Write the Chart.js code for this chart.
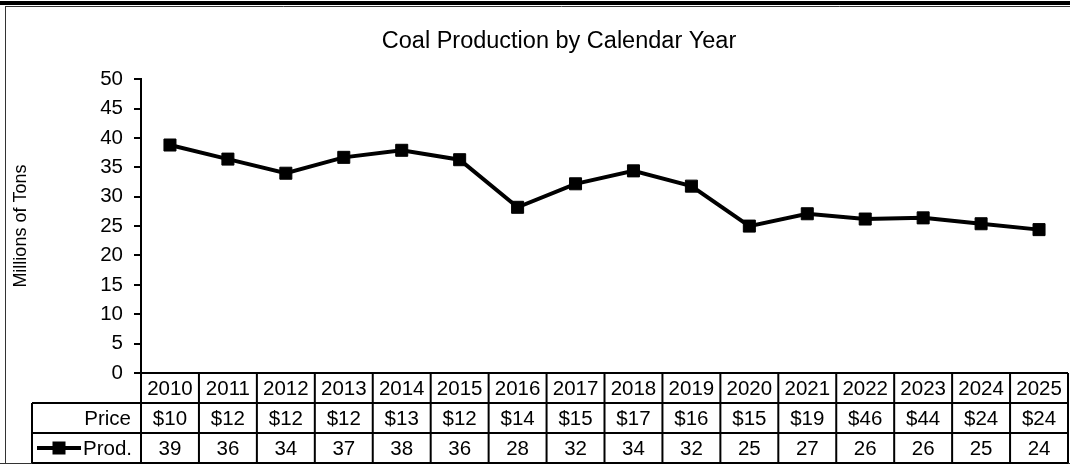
<!DOCTYPE html>
<html>
<head>
<meta charset="utf-8">
<title>Coal Production by Calendar Year</title>
<script src="https://cdn.jsdelivr.net/npm/chart.js@4.4.1/dist/chart.umd.min.js"></script>
<style>
  html, body { margin: 0; padding: 0; background: #fff; overflow: hidden; }
  #wrap { position: relative; width: 1070px; height: 466px; overflow: hidden; }
  #wrap canvas { position: absolute; left: 0; top: 0; }
</style>
</head>
<body>
<div id="wrap"><canvas id="coalChart" width="1118" height="466"></canvas></div>
<script>
// --- Datos ---
const years = ['2010', '2011', '2012', '2013', '2014', '2015', '2016', '2017',
               '2018', '2019', '2020', '2021', '2022', '2023', '2024', '2025'];
const production = [38.8, 36.4, 34.0, 36.7, 37.9, 36.3, 28.2, 32.2,
                    34.4, 31.8, 25.0, 27.1, 26.2, 26.4, 25.4, 24.4];
const prices = [10, 12, 12, 12, 13, 12, 14, 15, 17, 16, 15, 19, 46, 44, 24, 24];
const yTicks = [0, 50, 5]; // min, max, step

const FONT = "'Liberation Sans', Arial, sans-serif";
Chart.defaults.font.family = FONT;
Chart.defaults.color = '#000';

/**
 * Marco exterior (barra negra superior + borde) antes de dibujar.
 */
const framePlugin = {
  id: 'frame',
  beforeDraw(chart) {
    const ctx = chart.ctx;
    ctx.save();
    ctx.fillStyle = '#fff';
    ctx.fillRect(0, 0, chart.width, chart.height);
    ctx.fillStyle = '#000';
    ctx.fillRect(0, 1, chart.width, 4);
    ctx.strokeStyle = '#333';
    ctx.lineWidth = 1;
    ctx.beginPath();
    ctx.moveTo(5, 6.5); ctx.lineTo(chart.width, 6.5);
    ctx.moveTo(5.5, 6); ctx.lineTo(5.5, 464);
    ctx.moveTo(0, 463.5); ctx.lineTo(chart.width, 463.5);
    ctx.stroke();
    ctx.restore();
  }
};

/**
 * Tabla de datos bajo el eje X (años, precio, producción).
 */
const tablePlugin = {
  id: 'dataTable',
  afterDraw(chart) {
    const { ctx, chartArea: area, scales: { x } } = chart;
    const rowH = 30;
    const top = area.bottom;
    const tableLeft = 32;
    const colW = (area.right - area.left) / years.length;

    ctx.save();
    ctx.strokeStyle = '#000';
    ctx.lineWidth = 2;
    ctx.beginPath();
    ctx.moveTo(area.left, top); ctx.lineTo(area.right, top);
    for (let r = 1; r <= 3; r++) {
      ctx.moveTo(tableLeft, top + r * rowH); ctx.lineTo(area.right, top + r * rowH);
    }
    for (let i = 0; i <= years.length; i++) {
      const xx = area.left + i * colW;
      ctx.moveTo(xx, top); ctx.lineTo(xx, top + 3 * rowH);
    }
    ctx.moveTo(tableLeft, top + rowH); ctx.lineTo(tableLeft, top + 3 * rowH);
    ctx.stroke();

    ctx.fillStyle = '#000';
    ctx.font = '20.5px ' + FONT;
    ctx.textBaseline = 'middle';
    ctx.textAlign = 'center';
    years.forEach((yr, i) => {
      const cx = x.getPixelForValue(i);
      ctx.fillText(yr, cx, top + rowH * 0.5 + 1);
      ctx.fillText('$' + prices[i], cx, top + rowH * 1.5 + 1);
      ctx.fillText(String(Math.round(production[i])), cx, top + rowH * 2.5 + 1);
    });

    ctx.textAlign = 'right';
    ctx.fillText('Price', area.left - 10, top + rowH * 1.5 + 1);
    ctx.fillText('Prod.', area.left - 9, top + rowH * 2.5 + 1);

    // clave de leyenda
    const ky = top + rowH * 2.5;
    ctx.lineWidth = 4;
    ctx.beginPath();
    ctx.moveTo(37, ky); ctx.lineTo(81, ky);
    ctx.stroke();
    ctx.fillRect(59 - 6.5, ky - 6.5, 13, 13);
    ctx.restore();
  }
};

new Chart(document.getElementById('coalChart'), {
  type: 'line',
  data: {
    labels: years,
    datasets: [{
      label: 'Prod.',
      data: production,
      borderColor: '#000',
      backgroundColor: '#000',
      borderWidth: 4,
      pointStyle: 'rect',
      pointRadius: 8.5,
      pointHoverRadius: 8.5,
      pointBorderWidth: 1,
      tension: 0,
      fill: false
    }]
  },
  options: {
    responsive: false,
    animation: false,
    devicePixelRatio: 1,
    // izquierda 50 para centrar el título como en Excel
    layout: { padding: { top: 8, left: 50, right: 50, bottom: 93 } },
    plugins: {
      legend: { display: false },
      tooltip: { enabled: false },
      title: {
        display: true,
        text: 'Coal Production by Calendar Year',
        color: '#000',
        font: { size: 23.5, weight: 'normal' },
        padding: { top: 19, bottom: 24 }
      }
    },
    scales: {
      x: { display: false, offset: true },
      y: {
        min: yTicks[0],
        max: yTicks[1],
        afterFit: (scale) => { scale.width = 91; },
        ticks: { stepSize: yTicks[2], color: '#000', font: { size: 20.5 }, padding: 11 },
        grid: { drawOnChartArea: false, tickLength: 7, color: '#000', lineWidth: 2 },
        border: { color: '#000', width: 2 },
        title: {
          display: true,
          text: 'Millions of Tons',
          color: '#000',
          font: { size: 18 },
          padding: { top: -40, bottom: 0 }
        }
      }
    }
  },
  plugins: [framePlugin, tablePlugin]
});
</script>
</body>
</html>
